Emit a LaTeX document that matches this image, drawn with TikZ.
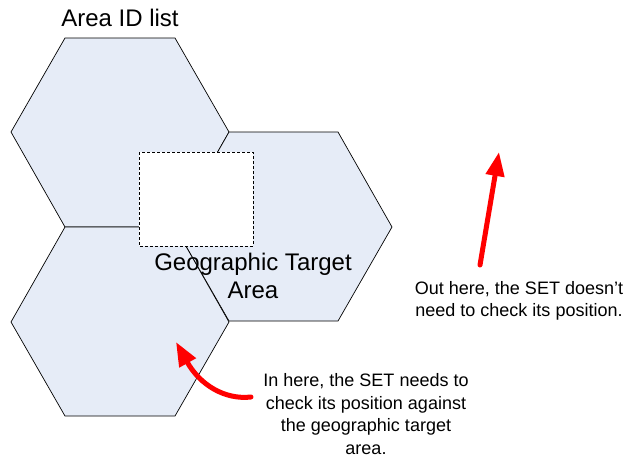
\documentclass[tikz,border=0pt]{standalone}
\usepackage{fontspec}
\setmainfont{Liberation Sans}
\usetikzlibrary{arrows.meta}
\definecolor{hexfill}{RGB}{230,236,247}
\definecolor{arrred}{RGB}{255,0,0}
\begin{document}
\begin{tikzpicture}[x=1pt,y=-1pt,
  hexagon/.style={fill=hexfill,draw=black,line width=0.7pt,line join=miter},
  redarrow/.style={draw=arrred,line width=5pt,line cap=round,-{Triangle[length=24pt,width=18pt]}},
  lbl/.style={font=\fontsize{18}{22.5}\selectfont,align=center,inner sep=0pt},
  biglbl/.style={font=\fontsize{24}{28}\selectfont,align=center,inner sep=0pt}]
\useasboundingbox (0,0) rectangle (629,459);
% hexagons
\draw[hexagon] (65,38) -- (175,38) -- (229,132) -- (175,227) -- (65,227) -- (11,132) -- cycle;
\draw[hexagon] (229,132) -- (338,132) -- (392,227) -- (338,321) -- (229,321) -- (175,227) -- cycle;
\draw[hexagon] (65,227) -- (175,227) -- (229,322) -- (175,416) -- (65,416) -- (11,322) -- cycle;
% target area
\draw[fill=white,draw=black,line width=0.7pt,densely dashed] (139,152) rectangle (253,246);
% texts
\node[biglbl] (title) at (120,18) {Area ID list};
\node[biglbl] (geo) at (253,276) {Geographic Target\\Area};
\node[lbl] (out) at (519,301) {Out here, the SET doesn’t\\need to check its position.};
\node[lbl] (in) at (366,414) {In here, the SET needs to\\check its position against\\the geographic target\\area.};
% arrows
\coordinate (a1s) at (480,265);
\coordinate (a1e) at (499,152);
\draw[redarrow] (a1s) -- (a1e);
\coordinate (a2s) at (251,397);
\coordinate (a2e) at (176,342);
\draw[redarrow] (a2s) .. controls (225,400) and (200,385) .. (a2e);
\end{tikzpicture}
\end{document}
